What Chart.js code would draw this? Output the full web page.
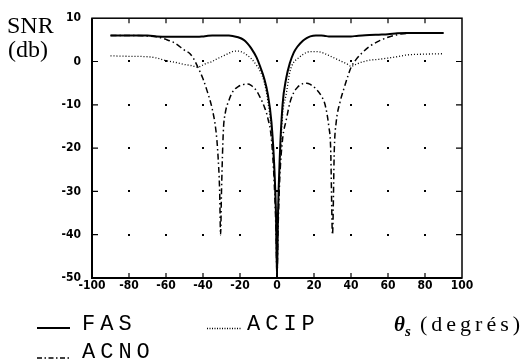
<!DOCTYPE html>
<html>
<head>
<meta charset="utf-8">
<script src="https://cdn.jsdelivr.net/npm/chart.js@4/dist/chart.umd.min.js"></script>
<style>
  html, body { margin: 0; padding: 0; background: #fff; }
  #wrap { position: relative; width: 523px; height: 363px; }
</style>
</head>
<body>
<div id="wrap"><canvas id="snrChart" width="523" height="363"></canvas></div>
<script>
// angles (degrees) and SNR values (dB)
const angles = [-90, -80, -70, -65, -60, -55, -50, -47, -45, -43, -40, -38, -35, -33, -32, -31, -30.5, -30, -29, -28, -26, -24, -21, -18, -16, -14, -11, -9, -7, -5, -3, -1.5, -0.5, 0,
  0.5, 1.5, 3, 5, 7, 9, 11, 14, 16, 18, 21, 24, 26, 28, 29, 30, 31, 32, 34, 36, 38, 40, 43, 46, 50, 55, 60, 65, 70, 80, 90];
const fas = [6.0, 6.0, 6.0, 5.8, 5.7, 5.7, 5.7, 5.7, 5.7, 5.7, 5.8, 5.9, 6.0, 6.0, 6.0, 6.0, 6.0, 6.0, 6.0, 6.0, 6.0, 5.9, 5.6, 5.0, 4.2, 3.1, 0.9, -1.3, -3.8, -7.5, -14, -24, -36, -50,
  -36, -22, -10, -3.8, -0.3, 2.0, 3.4, 4.8, 5.4, 5.8, 6.0, 6.0, 5.9, 5.8, 5.8, 5.8, 5.8, 5.8, 5.8, 5.8, 5.8, 5.8, 5.9, 6.0, 6.1, 6.2, 6.3, 6.5, 6.6, 6.6, 6.6];
const acip = [1.3, 1.2, 1.1, 0.8, 0.2, -0.2, -0.7, -0.9, -1.1, -1.3, -0.8, -0.4, 0.0, 0.5, 0.7, 0.9, 1.0, 1.1, 1.3, 1.5, 1.9, 2.3, 2.4, 2.0, 1.4, 0.7, -0.9, -2.3, -4.6, -9.0, -16, -26, -38, -50,
  -38, -25, -12.5, -7.5, -2.3, -0.2, 0.6, 1.6, 2.1, 2.3, 2.3, 2.1, 1.8, 1.4, 1.2, 1.0, 0.8, 0.6, 0.2, -0.2, -0.6, -1.1, -0.6, -0.1, 0.3, 0.5, 0.8, 1.1, 1.5, 1.7, 1.8];
const acno = [6.0, 6.0, 5.9, 5.7, 5.1, 4.2, 2.6, 1.8, 0.6, -1.1, -4.0, -6.5, -11, -16, -21, -30, -40, -30, -16, -12, -9, -7, -5.8, -5.3, -5.2, -5.5, -6.8, -8.4, -10.3, -13, -18, -28, -40, -50,
  -40, -27, -18, -13.5, -9.5, -7.2, -6.0, -5.1, -5.0, -5.3, -6.3, -8.0, -10, -15, -20, -40, -20, -14, -9.5, -6.5, -3.8, -1.4, 0.6, 2.0, 3.5, 4.7, 5.6, 6.2, 6.5, 6.6, 6.6];
const xTicks = [-100, -80, -60, -40, -20, 0, 20, 40, 60, 80, 100];
const yTicks = [10, 0, -10, -20, -30, -40, -50];

function points(vals) {
  return angles.map((a, i) => ({ x: a, y: vals[i] }));
}

// draws text one glyph at a time with extra gap between glyphs
function spaced(ctx, text, x, y, gap) {
  let cx = x;
  for (const ch of text) {
    ctx.fillText(ch, cx, y);
    cx += ctx.measureText(ch).width + gap;
  }
}

const framePlugin = {
  id: "frame",
  beforeDatasetsDraw(chart) {
    const { ctx, scales } = chart;
    ctx.save();
    ctx.fillStyle = "#000";
    // small dots where the grid lines would cross
    xTicks.slice(1, -1).forEach(xv => {
      yTicks.slice(1, -1).forEach(yv => {
        const px = Math.round(scales.x.getPixelForValue(xv));
        const py = Math.round(scales.y.getPixelForValue(yv));
        ctx.fillRect(px - 1, py - 1, 2, 2);
      });
    });
    ctx.restore();
  },
  afterDraw(chart) {
    const { ctx, chartArea: a, scales } = chart;
    ctx.save();
    ctx.strokeStyle = "#000";
    ctx.lineWidth = 1.5;
    ctx.strokeRect(a.left, a.top, a.right - a.left, a.bottom - a.top);
    ctx.lineWidth = 2;
    ctx.beginPath();
    ctx.moveTo(a.left, a.top);
    ctx.lineTo(a.left, a.bottom);
    ctx.lineTo(a.right, a.bottom);
    ctx.stroke();
    // inward tick marks on all four sides
    ctx.lineWidth = 1.2;
    ctx.beginPath();
    xTicks.slice(1, -1).forEach(v => {
      const px = scales.x.getPixelForValue(v);
      ctx.moveTo(px, a.bottom); ctx.lineTo(px, a.bottom - 5);
      ctx.moveTo(px, a.top); ctx.lineTo(px, a.top + 5);
    });
    yTicks.slice(1, -1).forEach(v => {
      const py = scales.y.getPixelForValue(v);
      ctx.moveTo(a.left, py); ctx.lineTo(a.left + 6, py);
      ctx.moveTo(a.right, py); ctx.lineTo(a.right - 6, py);
    });
    ctx.stroke();

    // axis titles
    ctx.fillStyle = "#000";
    ctx.textBaseline = "alphabetic";
    ctx.font = "24px 'Liberation Serif', serif";
    ctx.fillText("SNR", 7, 33);
    ctx.fillText("(db)", 8, 57);

    // legend
    ctx.font = "22px 'Liberation Mono', monospace";
    ctx.lineWidth = 1.8;
    ctx.setLineDash([]);
    ctx.beginPath(); ctx.moveTo(37, 328); ctx.lineTo(70, 328); ctx.stroke();
    spaced(ctx, "FAS", 82, 330, 5);

    ctx.lineWidth = 1.3;
    ctx.setLineDash([1, 1.5]);
    ctx.beginPath(); ctx.moveTo(207, 328.5); ctx.lineTo(242, 328.5); ctx.stroke();
    spaced(ctx, "ACIP", 247, 330, 5);

    ctx.setLineDash([5, 2.5, 1.5, 2.5]);
    ctx.lineWidth = 1.5;
    ctx.beginPath(); ctx.moveTo(37, 358); ctx.lineTo(70, 358); ctx.stroke();
    ctx.setLineDash([]);
    spaced(ctx, "ACNO", 82, 358, 5);

    ctx.font = "italic bold 21px 'Liberation Serif', serif";
    ctx.fillText("\u03b8", 394, 331);
    ctx.font = "italic bold 15px 'Liberation Serif', serif";
    ctx.fillText("s", 405, 336);
    ctx.font = "22px 'Liberation Serif', serif";
    spaced(ctx, "(degrés)", 420, 331, 4);
    ctx.restore();
  }
};

const tickFont = { family: "'Liberation Sans Narrow', 'DejaVu Sans Condensed', sans-serif", size: 12, weight: "bold" };

new Chart(document.getElementById("snrChart"), {
  type: "line",
  data: {
    datasets: [
      {
        label: "FAS",
        data: points(fas),
        borderColor: "#000",
        borderWidth: 2,
        pointRadius: 0,
        cubicInterpolationMode: "monotone"
      },
      {
        label: "ACIP",
        data: points(acip),
        borderColor: "#000",
        borderWidth: 1.3,
        borderDash: [1, 2],
        pointRadius: 0,
        cubicInterpolationMode: "monotone"
      },
      {
        label: "ACNO",
        data: points(acno),
        borderColor: "#000",
        borderWidth: 1.5,
        borderDash: [6, 3, 1.5, 3],
        pointRadius: 0,
        cubicInterpolationMode: "monotone"
      }
    ]
  },
  options: {
    responsive: false,
    animation: false,
    devicePixelRatio: 1,
    layout: { padding: { left: 0, top: 13, right: 61, bottom: 0 } },
    plugins: { legend: { display: false }, tooltip: { enabled: false } },
    scales: {
      x: {
        type: "linear",
        min: -100,
        max: 100,
        afterFit: s => { s.height = 85; },
        afterBuildTicks: s => { s.ticks = xTicks.map(v => ({ value: v })); },
        grid: { display: false, drawTicks: false },
        border: { display: false },
        ticks: { color: "#000", font: tickFont, padding: 1, maxRotation: 0, autoSkip: false }
      },
      y: {
        type: "linear",
        min: -50,
        max: 10,
        afterFit: s => { s.width = 92; },
        afterBuildTicks: s => { s.ticks = yTicks.map(v => ({ value: v })); },
        grid: { display: false, drawTicks: false },
        border: { display: false },
        ticks: { color: "#000", font: tickFont, padding: 11, autoSkip: false }
      }
    }
  },
  plugins: [framePlugin]
});
</script>
</body>
</html>
